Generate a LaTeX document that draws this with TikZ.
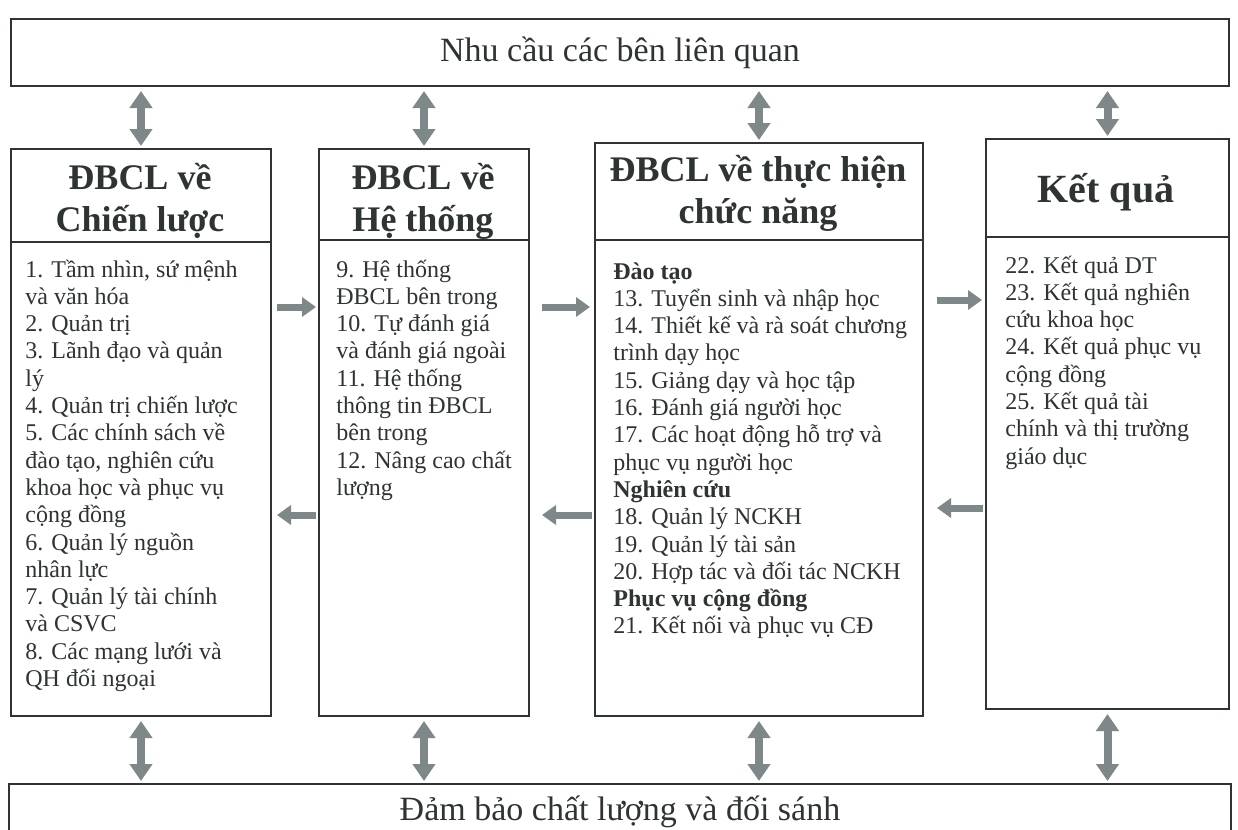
\documentclass[tikz,border=0pt]{standalone}
\usepackage{fontspec}
\setmainfont{Liberation Serif}
\usetikzlibrary{arrows.meta}
\definecolor{ink}{HTML}{2E3333}
\definecolor{arr}{HTML}{7E8888}
\begin{document}
\begin{tikzpicture}[x=0.5pt,y=-0.5pt,
 box/.style={draw=ink, line width=1pt, inner sep=0pt, anchor=north west},
 headtxt/.style={font=\fontsize{18}{21}\selectfont\bfseries, text=ink, align=center, inner sep=0pt},
 bodytxt/.style={font=\fontsize{12}{13.65}\selectfont, text=ink, align=left, anchor=base west, inner sep=0pt},
 banner/.style={font=\fontsize{17}{20}\selectfont, text=ink, inner sep=0pt},
 divider/.style={draw=ink, line width=1pt},
 biarrow/.style={draw=arr, line width=4pt, {Triangle[length=8.5pt,width=11pt]}-{Triangle[length=8.5pt,width=11pt]}},
 onearrow/.style={draw=arr, line width=3.5pt, -{Triangle[length=7pt,width=9.5pt]}},
]
\path[use as bounding box] (0,0) rectangle (1238,830);
\clip (0,0) rectangle (1238,830);
\fill[white] (0,0) rectangle (1238,830);

% banners
\node[box, minimum width=609pt, minimum height=33.5pt] (top) at (10,18) {};
\node[banner] (toptxt) at (top.center) {Nhu cầu các bên liên quan};
\node[box, minimum width=611pt, minimum height=40pt] (bot) at (8,783) {};
\node[banner] (bottxt) at (620,812) {Đảm bảo chất lượng và đối sánh};

% column boxes
\node[box, minimum width=130pt, minimum height=283.5pt] (b1) at (10,148) {};
\node[box, minimum width=105pt, minimum height=283.5pt] (b2) at (318,148) {};
\node[box, minimum width=164pt, minimum height=286.5pt] (b3) at (594,142) {};
\node[box, minimum width=121.5pt, minimum height=285pt] (b4) at (985,138) {};

% dividers
\coordinate (d1) at (0,242);
\coordinate (d2) at (0,240);
\coordinate (d3) at (0,240);
\coordinate (d4) at (0,237);
\draw[divider] (b1.west |- d1) -- (b1.east |- d1);
\draw[divider] (b2.west |- d2) -- (b2.east |- d2);
\draw[divider] (b3.west |- d3) -- (b3.east |- d3);
\draw[divider] (b4.west |- d4) -- (b4.east |- d4);

% headings
\node[headtxt] (h1) at (140,201) {ĐBCL về\\Chiến lược};
\node[headtxt] (h2) at (423,201) {ĐBCL về\\Hệ thống};
\node[headtxt] (h3) at (758,193) {ĐBCL về thực hiện\\chức năng};
\node[headtxt, font=\fontsize{20}{22}\selectfont\bfseries] (h4) at (1106,192) {Kết quả};

% bodies (anchor = baseline of the last line)
\node[bodytxt] (t1) at (25,686.5) {1. Tầm nhìn, sứ mệnh\\và văn hóa\\2. Quản trị\\3. Lãnh đạo và quản\\lý\\4. Quản trị chiến lược\\5. Các chính sách về\\đào tạo, nghiên cứu\\khoa học và phục vụ\\cộng đồng\\6. Quản lý nguồn\\nhân lực\\7. Quản lý tài chính\\và CSVC\\8. Các mạng lưới và\\QH đối ngoại};
\node[bodytxt] (t2) at (336,495.4) {9. Hệ thống\\ĐBCL bên trong\\10. Tự đánh giá\\và đánh giá ngoài\\11. Hệ thống\\thông tin ĐBCL\\bên trong\\12. Nâng cao chất\\lượng};
\node[bodytxt] (t3) at (613,633.9) {\textbf{Đào tạo}\\13. Tuyển sinh và nhập học\\14. Thiết kế và rà soát chương\\trình dạy học\\15. Giảng dạy và học tập\\16. Đánh giá người học\\17. Các hoạt động hỗ trợ và\\phục vụ người học\\\textbf{Nghiên cứu}\\18. Quản lý NCKH\\19. Quản lý tài sản\\20. Hợp tác và đối tác NCKH\\\textbf{Phục vụ cộng đồng}\\21. Kết nối và phục vụ CĐ};
\node[bodytxt] (t4) at (1005,464.1) {22. Kết quả DT\\23. Kết quả nghiên\\cứu khoa học\\24. Kết quả phục vụ\\cộng đồng\\25. Kết quả tài\\chính và thị trường\\giáo dục};

% vertical double arrows
\draw[biarrow] ([yshift=-2pt]top.south -| b1.north) -- ([yshift=1pt]b1.north);
\draw[biarrow] ([yshift=-2pt]top.south -| b2.north) -- ([yshift=1pt]b2.north);
\draw[biarrow] ([yshift=-2pt]top.south -| b3.north) -- ([yshift=1pt]b3.north);
\draw[biarrow] ([yshift=-2pt]top.south -| b4.north) -- ([yshift=1pt]b4.north);
\draw[biarrow] ([yshift=-2pt]b1.south) -- ([yshift=1pt]bot.north -| b1.south);
\draw[biarrow] ([yshift=-2pt]b2.south) -- ([yshift=1pt]bot.north -| b2.south);
\draw[biarrow] ([yshift=-2pt]b3.south) -- ([yshift=1pt]bot.north -| b3.south);
\draw[biarrow] ([yshift=-2pt]b4.south) -- ([yshift=1pt]bot.north -| b4.south);

% horizontal arrows
\coordinate (ya) at (0,307);
\coordinate (yb) at (0,515);
\coordinate (yc) at (0,300);
\coordinate (yd) at (0,508);
\draw[onearrow] ([xshift=2.5pt]b1.east |- ya) -- ([xshift=-1pt]b2.west |- ya);
\draw[onearrow] ([xshift=-1pt]b2.west |- yb) -- ([xshift=2.5pt]b1.east |- yb);
\draw[onearrow] ([xshift=6pt]b2.east |- ya) -- ([xshift=-2pt]b3.west |- ya);
\draw[onearrow] ([xshift=-1pt]b3.west |- yb) -- ([xshift=6pt]b2.east |- yb);
\draw[onearrow] ([xshift=6.5pt]b3.east |- yc) -- ([xshift=-1.5pt]b4.west |- yc);
\draw[onearrow] ([xshift=-1pt]b4.west |- yd) -- ([xshift=6.5pt]b3.east |- yd);
\end{tikzpicture}
\end{document}
